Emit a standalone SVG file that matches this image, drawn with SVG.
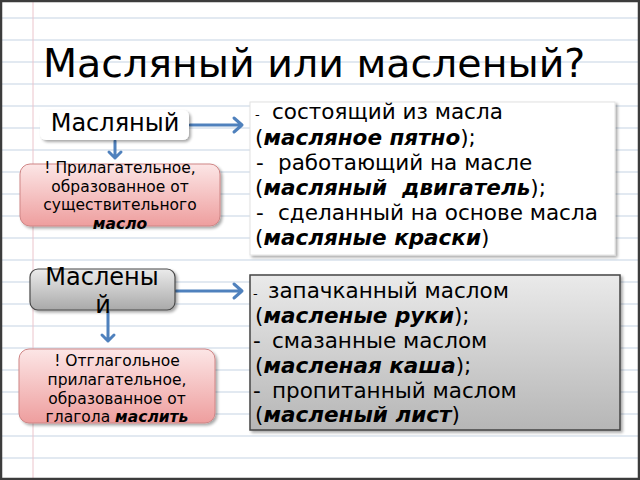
<svg xmlns="http://www.w3.org/2000/svg" width="640" height="480" viewBox="0 0 640 480">
<defs>
<style>
text{font-family:"DejaVu Sans","Noto Sans",sans-serif;fill:#000}
.ruled{stroke:#D8E2EC;stroke-width:1.5}
.body{font-size:21.5px}
.bi{font-weight:bold;font-style:italic}
.note{font-size:15.5px;text-anchor:middle}
.conn{stroke:#4F81BD;stroke-width:3;fill:none;stroke-linecap:round;stroke-linejoin:round}
</style>
<linearGradient id="pink" x1="0" y1="0" x2="0" y2="1">
<stop offset="0" stop-color="#FCE6E6"/>
<stop offset="1" stop-color="#EE9E9E"/>
</linearGradient>
<linearGradient id="gray" x1="0" y1="0" x2="0" y2="1">
<stop offset="0" stop-color="#EBEBEB"/>
<stop offset="1" stop-color="#A9A9A9"/>
</linearGradient>
<linearGradient id="gray2" x1="0" y1="0" x2="0" y2="1">
<stop offset="0" stop-color="#EAEAEA"/>
<stop offset="1" stop-color="#B6B6B6"/>
</linearGradient>
<filter id="sh" x="-10%" y="-10%" width="130%" height="140%">
<feGaussianBlur in="SourceAlpha" stdDeviation="1.5"/>
<feOffset dx="1.5" dy="2" result="b"/>
<feComponentTransfer><feFuncA type="linear" slope="0.35"/></feComponentTransfer>
<feMerge><feMergeNode/><feMergeNode in="SourceGraphic"/></feMerge>
</filter>
</defs>

<rect x="0" y="0" width="640" height="480" fill="#FFFFFF"/>
<g id="paper">
<line class="ruled" x1="0" y1="18" x2="640" y2="18"/>
<line class="ruled" x1="0" y1="40" x2="640" y2="40"/>
<line class="ruled" x1="0" y1="62" x2="640" y2="62"/>
<line class="ruled" x1="0" y1="84" x2="640" y2="84"/>
<line class="ruled" x1="0" y1="106" x2="640" y2="106"/>
<line class="ruled" x1="0" y1="128" x2="640" y2="128"/>
<line class="ruled" x1="0" y1="150" x2="640" y2="150"/>
<line class="ruled" x1="0" y1="172" x2="640" y2="172"/>
<line class="ruled" x1="0" y1="194" x2="640" y2="194"/>
<line class="ruled" x1="0" y1="216" x2="640" y2="216"/>
<line class="ruled" x1="0" y1="238" x2="640" y2="238"/>
<line class="ruled" x1="0" y1="260" x2="640" y2="260"/>
<line class="ruled" x1="0" y1="282" x2="640" y2="282"/>
<line class="ruled" x1="0" y1="304" x2="640" y2="304"/>
<line class="ruled" x1="0" y1="326" x2="640" y2="326"/>
<line class="ruled" x1="0" y1="348" x2="640" y2="348"/>
<line class="ruled" x1="0" y1="370" x2="640" y2="370"/>
<line class="ruled" x1="0" y1="392" x2="640" y2="392"/>
<line class="ruled" x1="0" y1="414" x2="640" y2="414"/>
<line class="ruled" x1="0" y1="436" x2="640" y2="436"/>
<line class="ruled" x1="0" y1="458" x2="640" y2="458"/>
<line x1="33" y1="0" x2="33" y2="480" stroke="#EBC4CB" stroke-width="1"/>
</g>

<text x="43" y="77" font-size="39.5">Масляный или масленый?</text>

<g id="connectors">
<path class="conn" d="M190 125 H242 M234 118 L242 125 L234 132"/>
<path class="conn" d="M115 141 V158 M109 152 L115 158 L121 152"/>
<path class="conn" d="M176 291 H242 M234 284 L242 291 L234 298"/>
<path class="conn" d="M108 312 V341 M102 335 L108 341 L114 335"/>
</g>

<g id="n-maslyany">
<rect x="40" y="110" width="149" height="30" rx="6" fill="#FFFFFF" filter="url(#sh)"/>
<text x="115" y="131" font-size="24" text-anchor="middle">Масляный</text>
</g>

<g id="n-note1">
<rect x="20" y="164" width="200" height="62" rx="10" fill="url(#pink)" stroke="#CF8585" stroke-width="1" filter="url(#sh)"/>
<text class="note" x="120" y="173">! Прилагательное,</text>
<text class="note" x="120" y="191.5">образованное от</text>
<text class="note" x="120" y="210">существительного</text>
<text class="note bi" x="120" y="228.5">масло</text>
</g>

<g id="n-def1">
<rect x="250" y="102" width="365" height="153" fill="#FFFFFF" stroke="#E2E2E2" stroke-width="1" filter="url(#sh)"/>
<text class="body" y="119"><tspan x="255" font-size="13">-</tspan><tspan x="272">состоящий из масла</tspan></text>
<text class="body" x="255" y="145">(<tspan class="bi">масляное пятно</tspan>);</text>
<text class="body" y="170"><tspan x="256">-</tspan><tspan x="278">работающий на масле</tspan></text>
<text class="body" x="255" y="195" xml:space="preserve">(<tspan class="bi">масляный  двигатель</tspan>);</text>
<text class="body" y="220"><tspan x="256">-</tspan><tspan x="278">сделанный на основе масла</tspan></text>
<text class="body" x="255" y="245">(<tspan class="bi">масляные краски</tspan>)</text>
</g>

<g id="n-maslenyi">
<rect x="30" y="269" width="145" height="41" rx="8" fill="url(#gray)" stroke="#4A4A4A" stroke-width="1.2" filter="url(#sh)"/>
<text x="102" y="285" font-size="24" text-anchor="middle">Маслены</text>
<text x="103" y="313" font-size="24" text-anchor="middle">й</text>
</g>

<g id="n-note2">
<rect x="19" y="349" width="196" height="74" rx="10" fill="url(#pink)" stroke="#CF8585" stroke-width="1" filter="url(#sh)"/>
<text class="note" x="117" y="366">! Отглагольное</text>
<text class="note" x="117" y="385">прилагательное,</text>
<text class="note" x="117" y="403.5">образованное от</text>
<text class="note" x="117" y="422">глагола <tspan class="bi">маслить</tspan></text>
</g>

<g id="n-def2">
<rect x="250" y="275" width="370" height="155" fill="url(#gray2)" stroke="#454545" stroke-width="1.5" filter="url(#sh)"/>
<text class="body" y="298"><tspan x="253" font-size="13">-</tspan><tspan x="268">запачканный маслом</tspan></text>
<text class="body" x="255" y="323">(<tspan class="bi">масленые руки</tspan>);</text>
<text class="body" y="348"><tspan x="253">-</tspan><tspan x="272">смазанные маслом</tspan></text>
<text class="body" x="255" y="373">(<tspan class="bi">масленая каша</tspan>);</text>
<text class="body" y="398"><tspan x="253">-</tspan><tspan x="272">пропитанный маслом</tspan></text>
<text class="body" x="255" y="422">(<tspan class="bi">масленый лист</tspan>)</text>
</g>

<rect x="1" y="1" width="638" height="478" fill="none" stroke="#3C3C3C" stroke-width="2.5"/>
</svg>
